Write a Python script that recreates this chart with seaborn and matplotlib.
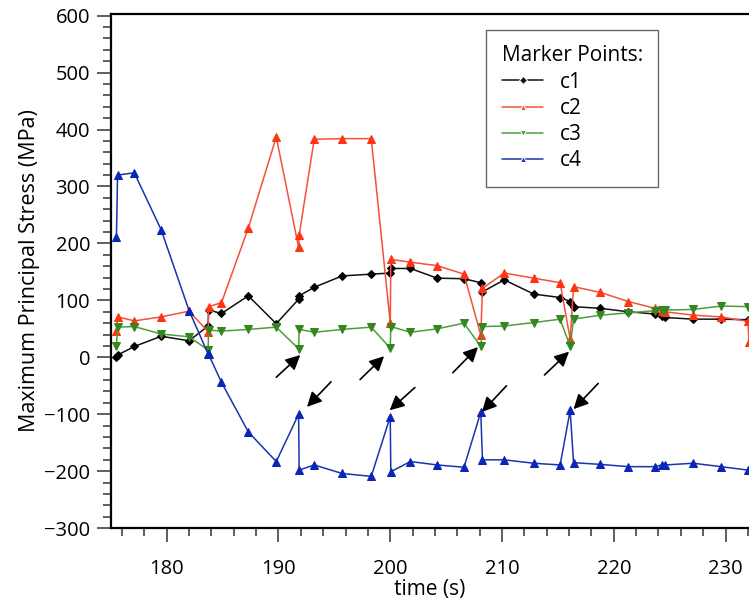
import numpy as np
import pandas as pd
import seaborn as sns
import matplotlib.pyplot as plt
from matplotlib.ticker import MultipleLocator

# time samples (s)
time = [175.5, 175.6, 177.1, 179.5, 182.0, 183.7, 183.75, 184.9, 187.3, 189.8,
        191.8, 191.85, 193.2, 195.7, 198.3, 200.0, 200.05, 201.8, 204.2, 206.6,
        208.1, 208.25, 210.2, 212.85, 215.2, 216.1, 216.4, 218.8, 221.3, 223.7,
        224.3, 224.6, 227.1, 229.6, 232.0, 232.1]

# maximum principal stress (MPa) at each marker point
c1 = [0, 4, 19, 37, 29, 55, 83, 77, 108, 59,
      102, 108, 123, 143, 146, 148, 156, 156, 139, 138,
      131, 115, 136, 111, 105, 98, 89, 86, 80, 76,
      73, 70, 67, 67, 66, 66]
c2 = [47, 71, 64, 71, 81, 45, 89, 96, 227, 387,
      193, 215, 383, 384, 384, 61, 172, 167, 161, 146,
      39, 121, 148, 139, 131, 32, 124, 114, 98, 86,
      82, 80, 74, 71, 63, 27]
c3 = [19, 53, 54, 41, 36, 13, 48, 46, 49, 53,
      15, 49, 44, 49, 53, 16, 54, 44, 50, 60,
      19, 54, 55, 61, 67, 19, 67, 74, 78, 82,
      83, 83, 84, 90, 89, 89]
c4 = [211, 320, 324, 224, 82, 6, 5, -44, -131, -183,
      -100, -198, -189, -204, -209, -104, -201, -183, -189, -193,
      -96, -180, -180, -186, -189, -93, -185, -188, -192, -192,
      -189, -189, -186, -192, -198, -198]

# arrows: (tail time, tail stress, head time, head stress)
arrows = [(189.8, -35, 191.95, 4), (194.7, -43, 192.55, -87),
          (197.3, -39, 199.45, 2), (202.2, -53, 199.95, -93),
          (205.6, -27, 207.85, 18), (210.4, -50, 208.2, -96),
          (213.8, -31, 216.0, 10), (218.6, -46, 216.4, -91)]

df = pd.DataFrame({"time": time, "c1": c1, "c2": c2, "c3": c3, "c4": c4})
long = df.melt(id_vars="time", var_name="point", value_name="stress")

line_colors = {"c1": "#111111", "c2": "#f4503c", "c3": "#4c9e3c", "c4": "#1a34ae"}
marker_colors = {"c1": "#000000", "c2": "#ff3412", "c3": "#34861e", "c4": "#0a26b6"}
markers = {"c1": "D", "c2": "^", "c3": "v", "c4": "^"}
msize = {"c1": 4.0, "c2": 5.6, "c3": 5.6, "c4": 5.6}

sns.set_style("ticks")
plt.rcParams["font.family"] = ["Open Sans", "DejaVu Sans"]
plt.rcParams["text.color"] = "black"
plt.rcParams["axes.labelcolor"] = "black"
plt.rcParams["xtick.color"] = "#333333"
plt.rcParams["ytick.color"] = "#333333"
plt.rcParams["xtick.labelcolor"] = "black"
plt.rcParams["ytick.labelcolor"] = "black"

fig = plt.figure(figsize=(7.49, 6.05), dpi=100)
ax = fig.add_axes([0.148, 0.127, 0.852, 0.85])

sns.lineplot(data=long, x="time", y="stress", hue="point", style="point",
             palette=line_colors, markers=markers, dashes=False,
             estimator=None, sort=False, linewidth=1.1, ax=ax)

for ln, key in zip(ax.get_lines()[:4], ["c1", "c2", "c3", "c4"]):
    ln.set_markerfacecolor(marker_colors[key])
    ln.set_markeredgecolor(marker_colors[key])
    ln.set_markersize(msize[key])

for x0, y0, x1, y1 in arrows:
    ax.annotate("", xy=(x1, y1), xytext=(x0, y0),
                arrowprops=dict(arrowstyle="-|>", color="black", lw=1.2,
                                mutation_scale=22, shrinkA=0, shrinkB=0))

ax.set_xlim(175.0, 232.1)
ax.set_ylim(-300, 603)
ax.xaxis.set_major_locator(MultipleLocator(10))
ax.xaxis.set_minor_locator(MultipleLocator(2))
ax.yaxis.set_major_locator(MultipleLocator(100))
ax.yaxis.set_minor_locator(MultipleLocator(20))
ax.tick_params(which="major", length=10, width=1.1, labelsize=14.5)
ax.tick_params(which="minor", length=5.5, width=1.1)
ax.tick_params(axis="x", which="major", pad=12.5)
ax.tick_params(axis="y", which="major", pad=5)

for side in ["left", "bottom", "top"]:
    ax.spines[side].set_linewidth(1.6)
    ax.spines[side].set_color("black")
ax.spines["right"].set_visible(False)

ax.set_xlabel("time (s)", fontsize=15, labelpad=0)
ax.set_ylabel("Maximum Principal Stress (MPa)", fontsize=15.5, labelpad=3)

handles, labels = ax.get_legend_handles_labels()
leg = ax.legend(handles, labels, title="Marker Points:", loc="upper left",
                bbox_to_anchor=(0.588, 0.969), fontsize=15, title_fontsize=15,
                frameon=True, fancybox=False, edgecolor="#444444",
                handlelength=2.0, borderpad=0.75, labelspacing=0.25,
                handletextpad=0.8, borderaxespad=0)
leg._legend_box.align = "left"
leg.get_frame().set_linewidth(1.0)
for h in leg.legend_handles:
    h.set_markersize(4.5)

fig.savefig("out.png", dpi=100)
